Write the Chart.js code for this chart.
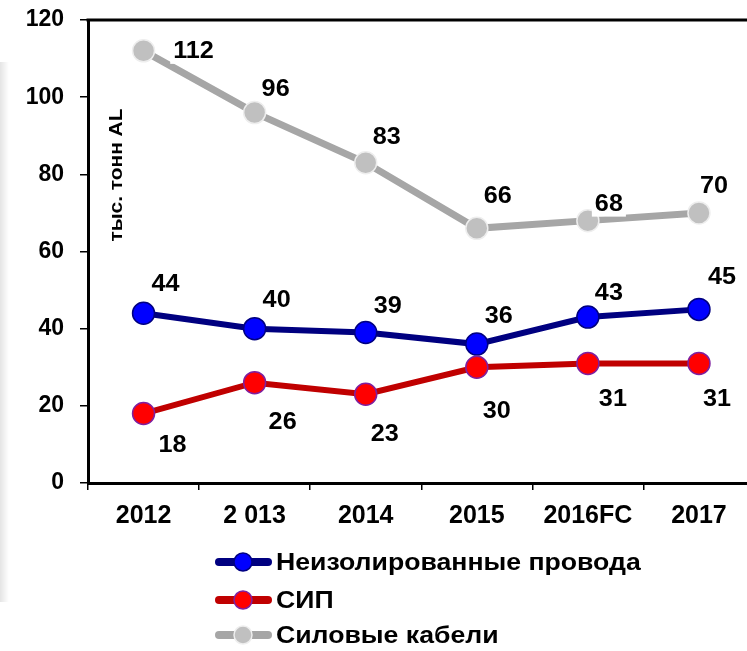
<!DOCTYPE html>
<html>
<head>
<meta charset="utf-8">
<script src="https://cdn.jsdelivr.net/npm/chart.js@4"></script>
<style>
  html, body { margin: 0; padding: 0; background: #fff; overflow: hidden; }
</style>
</head>
<body>
<canvas id="chart" width="767" height="651"></canvas>
<script>
// data
const years = ["2012", "2 013", "2014", "2015", "2016FC", "2017"];
const bareWires = [44, 40, 39, 36, 43, 45];
const sipWires = [18, 26, 23, 30, 31, 31];
const powerCables = [112, 96, 83, 66, 68, 70];
const yTicks = [0, 20, 40, 60, 80, 100, 120];
const seriesNames = ["Неизолированные провода", "СИП", "Силовые кабели"];

// where each value label sits relative to its point (px)
const bareLabelOffsets = [[22, -30], [22, -29], [22, -27], [22, -29], [21, -25], [23, -33]];
const sipLabelOffsets = [[29, 31], [28, 39], [19, 39], [20, 43], [25, 35], [18, 35]];
const cableLabelOffsets = [[50, 0], [21, -24], [21, -26], [21, -33], [21, -17], [15, -28]];

const FONT = '"Liberation Sans", Arial, sans-serif';

function noPadding(s) {
  s.paddingLeft = 0;
  s.paddingRight = 0;
  s.paddingTop = 0;
  s.paddingBottom = 0;
}

const valueLabels = {
  id: 'valueLabels',
  afterDatasetsDraw(chart) {
    const ctx = chart.ctx;
    ctx.save();
    ctx.font = 'bold 24px ' + FONT;
    ctx.textAlign = 'center';
    ctx.textBaseline = 'middle';
    chart.data.datasets.forEach((ds, i) => {
      const meta = chart.getDatasetMeta(i);
      meta.data.forEach((pt, j) => {
        const off = ds.labelOffsets[j];
        const x = pt.x + off[0], y = pt.y + off[1];
        const txt = String(ds.data[j]);
        const w = ctx.measureText(txt).width * 1.05;
        ctx.fillStyle = '#fff';
        ctx.fillRect(x - w / 2 - 3, y - 13, w + 6, 26);
        ctx.save();
        ctx.translate(x, y + 1);
        ctx.scale(1.05, 1);
        ctx.fillStyle = '#000';
        ctx.fillText(txt, 0, 0);
        ctx.restore();
      });
    });
    ctx.restore();
  }
};

const frame = {
  id: 'frame',
  beforeDraw(chart) {
    const ctx = chart.ctx;
    ctx.save();
    // faint edge of the panel on the left
    const g = ctx.createLinearGradient(0, 0, 9, 0);
    g.addColorStop(0, 'rgba(0,0,0,0.10)');
    g.addColorStop(1, 'rgba(0,0,0,0)');
    ctx.fillStyle = g;
    ctx.fillRect(0, 62, 9, 540);
    ctx.restore();
  },
  afterDraw(chart) {
    const ctx = chart.ctx;
    const a = chart.chartArea;
    ctx.save();
    ctx.strokeStyle = '#000';
    ctx.lineWidth = 3;
    ctx.beginPath();
    ctx.moveTo(a.left - 1.5, a.top);
    ctx.lineTo(a.right, a.top);
    ctx.lineTo(a.right, a.bottom);
    ctx.stroke();

    // axis title inside the plot
    ctx.translate(117, 175);
    ctx.rotate(-Math.PI / 2);
    ctx.scale(1.1, 1);
    ctx.font = 'bold 19px ' + FONT;
    ctx.fillStyle = '#000';
    ctx.textAlign = 'center';
    ctx.textBaseline = 'middle';
    ctx.fillText('тыс. тонн AL', 0, 0);
    ctx.restore();

    // legend in one column
    const rows = [562, 600, 635];
    ctx.save();
    chart.data.datasets.forEach((ds, i) => {
      const y = rows[i];
      ctx.strokeStyle = ds.borderColor;
      ctx.lineWidth = 8;
      ctx.lineCap = 'round';
      ctx.beginPath();
      ctx.moveTo(219, y);
      ctx.lineTo(268, y);
      ctx.stroke();
      ctx.beginPath();
      ctx.arc(243, y, 9, 0, Math.PI * 2);
      ctx.fillStyle = ds.pointBackgroundColor;
      ctx.fill();
      ctx.lineWidth = 1.5;
      ctx.strokeStyle = ds.pointBorderColor;
      ctx.stroke();
      ctx.save();
      ctx.translate(276, y + 1);
      ctx.scale(1.11, 1);
      ctx.fillStyle = '#000';
      ctx.font = 'bold 24px ' + FONT;
      ctx.textAlign = 'left';
      ctx.textBaseline = 'middle';
      ctx.fillText(ds.label, 0, 0);
      ctx.restore();
    });
    ctx.restore();
  }
};

new Chart(document.getElementById('chart').getContext('2d'), {
  type: 'line',
  data: {
    labels: years,
    datasets: [
      {
        label: seriesNames[0],
        data: bareWires,
        labelOffsets: bareLabelOffsets,
        borderColor: '#000080',
        borderWidth: 6,
        pointBackgroundColor: '#0000ff',
        pointBorderColor: '#000080',
        pointBorderWidth: 1.5,
        pointRadius: 11,
        order: 1
      },
      {
        label: seriesNames[1],
        data: sipWires,
        labelOffsets: sipLabelOffsets,
        borderColor: '#c00000',
        borderWidth: 6,
        pointBackgroundColor: '#ff0000',
        pointBorderColor: '#7f1f9f',
        pointBorderWidth: 1.5,
        pointRadius: 11,
        order: 0
      },
      {
        label: seriesNames[2],
        data: powerCables,
        labelOffsets: cableLabelOffsets,
        borderColor: '#a6a6a6',
        borderWidth: 7,
        pointBackgroundColor: '#c0c0c0',
        pointBorderColor: '#eeeeee',
        pointBorderWidth: 1.5,
        pointRadius: 11,
        order: 2
      }
    ]
  },
  options: {
    responsive: false,
    animation: false,
    devicePixelRatio: 1,
    layout: { padding: { top: 20, left: 0, right: 6, bottom: 0 } },
    plugins: {
      legend: { display: false },
      tooltip: { enabled: false }
    },
    scales: {
      x: {
        offset: true,
        afterFit(scale) {
          scale.height = 168;
          noPadding(scale);
        },
        grid: { offset: true, drawOnChartArea: false, drawTicks: true, tickLength: 7, color: '#000', lineWidth: 1.5 },
        border: { display: true, color: '#000', width: 3 },
        ticks: { color: '#000', font: { family: FONT, size: 25, weight: 'bold' }, padding: 11, maxRotation: 0 }
      },
      y: {
        min: 0,
        max: 120,
        afterFit(scale) {
          scale.width = 88;
          noPadding(scale);
        },
        afterBuildTicks(scale) { scale.ticks = yTicks.map(v => ({ value: v })); },
        grid: { drawOnChartArea: false, drawTicks: true, tickLength: 8, color: '#000', lineWidth: 1.5 },
        border: { display: true, color: '#000', width: 3 },
        ticks: { color: '#000', font: { family: FONT, size: 23, weight: 'bold' }, padding: 16 }
      }
    }
  },
  plugins: [frame, valueLabels]
});
</script>
</body>
</html>
